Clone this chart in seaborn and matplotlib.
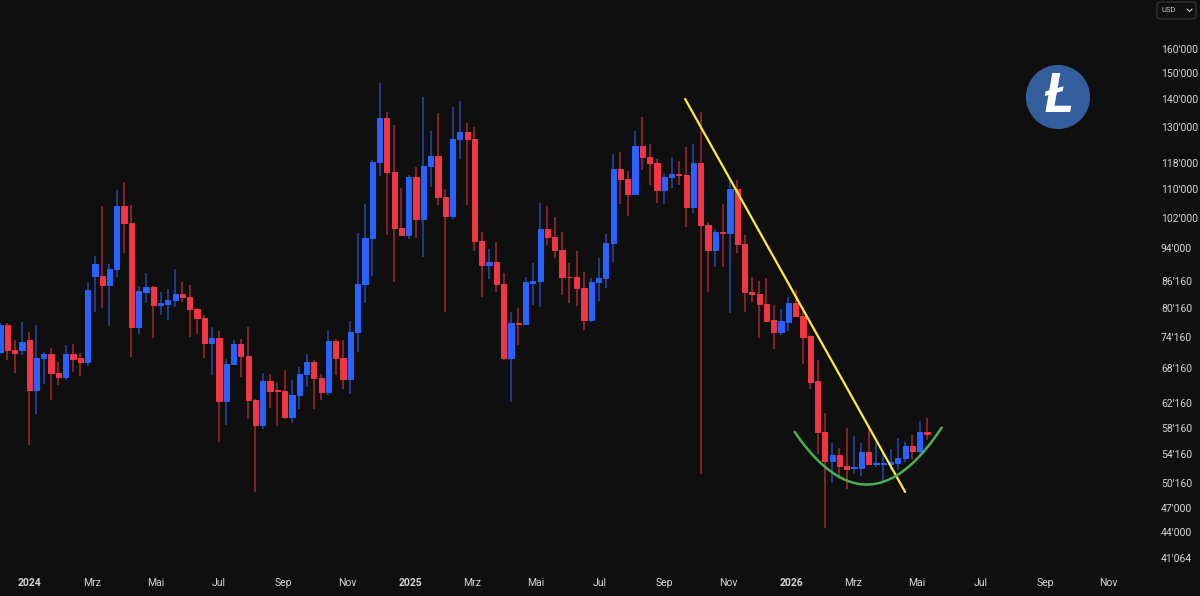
""" Weekly candle chart with trendline and rounding bottom """

import numpy as np
import pandas as pd
import matplotlib
matplotlib.use("Agg")
import matplotlib.pyplot as plt
import matplotlib.dates as mdates
from matplotlib.patches import Circle, FancyBboxPatch
from matplotlib.lines import Line2D
from matplotlib.ticker import NullLocator
import seaborn as sns

""" Data read off the chart """

first_week = "2023-12-04"  # Monday of the first weekly candle

opens = [71230, 76520, 71550, 71550, 73630, 64420, 70170, 70900, 67410, 66640,
         70900, 69990, 69370, 87220, 87300, 85130, 89010, 105150, 100400, 76180,
         83650, 84770, 80710, 80930, 81800, 83130, 82390, 79790, 78090, 72980,
         74020, 62490, 68930, 72850, 70400, 62610, 58560, 65870, 64310, 64140,
         59870, 63460, 67110, 69250, 66520, 64020, 73300, 69990, 66340, 75030,
         85360, 96460, 118390, 132900, 115250, 99070, 97290, 113730, 101550, 117020,
         120190, 107640, 102470, 125790, 128040, 125930, 95870, 89820, 90470, 85360,
         70170, 76930, 76720, 85520, 86070, 98890, 96720, 93500, 87070, 87070,
         84390, 77670, 85910, 86680, 95360, 116060, 112920, 108610, 123470, 119980,
         118080, 109770, 113530, 114640, 114240, 104970, 118080, 99950, 93500, 98090,
         97740, 110060, 94940, 83650, 83060, 80860, 77540, 75160, 77200, 81070,
         78450, 74280, 65870, 57550, 53240, 54040, 52540, 52300, 52300, 54520,
         52760, 52860, 52760, 53000, 53660, 55360, 54670, 57550]
highs = [76860, 76860, 73500, 77200, 75160, 76520, 71230, 72070, 69370, 72530,
         72850, 71100, 85520, 92100, 105150, 90070, 109770, 112210, 105430, 84990,
         87850, 84990, 83650, 84170, 89010, 85780, 85130, 80000, 78590, 76050,
         75370, 69810, 73500, 73820, 76180, 62890, 67410, 67230, 65640, 67830,
         66050, 68440, 70900, 69680, 67230, 75370, 73820, 73630, 77400, 97740,
         105700, 118920, 146230, 135330, 130580, 110250, 114240, 116590, 140610, 128610,
         134720, 109960, 136900, 139340, 131160, 129770, 98180, 93750, 95610, 87850,
         79300, 80000, 87070, 90230, 106080, 105150, 102190, 98180, 90230, 93330,
         88230, 86680, 91440, 97560, 120820, 121570, 115450, 128500, 133510, 124130,
         119130, 114740, 119980, 118710, 123020, 124130, 135090, 100670, 98800, 105890,
         112720, 112720, 97290, 87070, 86070, 86680, 80710, 79790, 82390, 84020,
         80360, 74490, 69680, 60580, 55910, 55160, 58200, 56860, 55910, 58460,
         55910, 54520, 55020, 56660, 56010, 57010, 59180, 59750]
lows = [70900, 69680, 67350, 70580, 55510, 60420, 65450, 62610, 65150, 66050,
        67530, 66760, 68570, 79160, 80000, 76380, 87070, 92820, 70300, 74820,
        81210, 74020, 78590, 77670, 80220, 81430, 74150, 74820, 69990, 66940,
        56010, 58560, 68740, 66640, 59600, 49000, 58040, 61390, 58400, 59500,
        58930, 61230, 64860, 61230, 62610, 63460, 66940, 64590, 63740, 71230,
        81070, 87300, 114040, 97290, 85910, 97000, 96210, 96460, 91850, 110540,
        105430, 79160, 101730, 119240, 105430, 93330, 82540, 86450, 83500, 69680,
        62320, 72530, 76520, 80710, 80360, 94770, 91610, 82910, 81210, 80500,
        75500, 77200, 81650, 84390, 90640, 105890, 102470, 108320, 115750, 111200,
        106080, 105700, 110250, 111400, 99510, 103110, 51450, 83650, 89260, 89420,
        78940, 92660, 79300, 81430, 74020, 77200, 71880, 74490, 75370, 78300,
        68930, 64480, 54280, 44500, 50230, 50770, 49430, 51450, 51140, 52600,
        52440, 50460, 51990, 51990, 53090, 53570, 54280, 56250]
closes = [76520, 71550, 71040, 73170, 64420, 70170, 70900, 67350, 66640, 70900,
          69870, 69370, 84020, 90070, 85130, 89010, 105150, 100400, 76180, 83800,
          84770, 80710, 81070, 81800, 83130, 82390, 79790, 78090, 72980, 74020,
          62490, 68930, 72850, 70400, 62610, 58560, 65870, 64200, 64140, 59870,
          63460, 67110, 69250, 66520, 64020, 73300, 69990, 66340, 75030, 85360,
          96460, 118390, 132900, 115250, 99070, 97290, 113730, 101550, 117020, 120190,
          107640, 102470, 125790, 128040, 125930, 95870, 89820, 90470, 85360, 70170,
          76860, 76720, 85780, 86070, 98890, 96720, 93500, 87070, 86910, 84390,
          77670, 85910, 86680, 95360, 116060, 112920, 108610, 123470, 119980, 118080,
          109770, 113730, 114540, 114240, 104970, 118080, 99950, 93500, 98180, 97740,
          110060, 94940, 83500, 83060, 80860, 77400, 75160, 77330, 81070, 78450,
          74150, 65750, 57520, 53240, 54040, 52480, 52160, 52440, 54520, 52760,
          52900, 52950, 53090, 53710, 55360, 54670, 57550, 57190]

price_ticks = [160000, 150000, 140000, 130000, 118000, 110000, 102000, 94000, 86160,
               80160, 74160, 68160, 62160, 58160, 54160, 50160, 47000, 44000, 41064]

month_ticks = ["2024-01-01", "2024-03-01", "2024-05-01", "2024-07-01", "2024-09-01",
               "2024-11-01", "2025-01-01", "2025-03-01", "2025-05-01", "2025-07-01",
               "2025-09-01", "2025-11-01", "2026-01-01", "2026-03-01", "2026-05-01",
               "2026-07-01", "2026-09-01", "2026-11-01"]
month_labels = ["2024", "Mrz", "Mai", "Jul", "Sep", "Nov", "2025", "Mrz", "Mai", "Jul",
                "Sep", "Nov", "2026", "Mrz", "Mai", "Jul", "Sep", "Nov"]

# Drawn lines: falling trendline and the rounding bottom
trend_dates = ["2025-09-21", "2026-04-20"]
trend_prices = [140000, 49000]
arc_dates = ["2026-01-04", "2026-03-14", "2026-05-25"]
arc_prices = [57540, 49980, 58200]

""" Styling """

BG = "#0f0f0f"
UP, DOWN = "#2962ff", "#f23645"
UP_WICK, DOWN_WICK = "#2846a8", "#a42834"
TXT = "#d6d6d6"

sns.set_theme(style="dark", rc={"axes.facecolor": BG, "figure.facecolor": BG})
plt.rcParams["font.family"] = ["Roboto", "DejaVu Sans"]

df = pd.DataFrame({"date": pd.date_range(first_week, periods=len(opens), freq="7D"),
                   "open": opens, "high": highs, "low": lows, "close": closes})
df["x"] = mdates.date2num(df["date"])
df["up"] = df["close"] >= df["open"]
df["body_lo"] = df[["open", "close"]].min(axis=1)
df["body_h"] = (df["close"] - df["open"]).abs()

fig = plt.figure(figsize=(12, 5.96), dpi=100)
ax = fig.add_axes([0, 26 / 596, 1145 / 1200, 570 / 596])
ax.set_yscale("log")

# wicks then bodies
ax.vlines(df["x"], df["low"], df["high"],
          colors=np.where(df["up"], UP_WICK, DOWN_WICK), linewidth=1.1, zorder=2)
body_col = np.where(df["up"], UP, DOWN)
ax.bar(df["x"], df["body_h"], bottom=df["body_lo"], width=5.0,
       color=body_col, edgecolor=body_col, linewidth=0.7, zorder=3)

# trendline
trend = pd.DataFrame({"date": pd.to_datetime(trend_dates), "price": trend_prices})
sns.lineplot(data=trend, x="date", y="price", ax=ax, color="#ffeb3b",
             linewidth=1.6, estimator=None, zorder=4)

# rounding bottom: parabola through the three read points (log price)
ax_days = mdates.date2num(pd.to_datetime(arc_dates))
coef = np.polyfit(ax_days, np.log(arc_prices), 2)
xs = np.linspace(ax_days[0], ax_days[-1], 120)
arc = pd.DataFrame({"date": mdates.num2date(xs), "price": np.exp(np.polyval(coef, xs))})
sns.lineplot(data=arc, x="date", y="price", ax=ax, color="#4caf50",
             linewidth=1.8, estimator=None, sort=False, zorder=4)

ax.set_xlim(mdates.date2num(pd.Timestamp("2023-12-04")),
            mdates.date2num(pd.Timestamp("2026-12-06")))
ax.set_ylim(39778, 182380)
ax.set_xlabel("")
ax.set_ylabel("")
ax.grid(False)
for s in ax.spines.values():
    s.set_visible(False)

ax.yaxis.tick_right()
ax.yaxis.set_minor_locator(NullLocator())
ax.set_yticks(price_ticks)
ax.set_yticklabels([f"{v:,}".replace(",", "'") for v in price_ticks])
ax.tick_params(axis="y", length=0, pad=11.5, labelsize=7.5, labelcolor=TXT)

ax.set_xticks(mdates.date2num(pd.to_datetime(month_ticks)))
ax.set_xticklabels(month_labels)
ax.tick_params(axis="x", length=0, pad=6, labelsize=7.5, labelcolor=TXT)
for lab in ax.get_xticklabels():
    if lab.get_text().startswith("20"):
        lab.set_fontweight("bold")

# currency box top right
fig.add_artist(FancyBboxPatch((1157 / 1200, 577 / 596), 39 / 1200, 17 / 596,
                              boxstyle="round,pad=0,rounding_size=0.004",
                              transform=fig.transFigure, facecolor=BG,
                              edgecolor="#3a3a3a", linewidth=0.8))
fig.text(1161 / 1200, 585.5 / 596, "USD", fontsize=5.5, color="#c8c8c8",
         va="center", ha="left")
fig.add_artist(Line2D([1187 / 1200, 1189.5 / 1200, 1192 / 1200],
                      [587 / 596, 584.5 / 596, 587 / 596],
                      transform=fig.transFigure, color="#c8c8c8", linewidth=0.8))

# Litecoin logo
logo = fig.add_axes([1026 / 1200, (596 - 129) / 596, 64 / 1200, 64 / 596])
logo.set_xlim(0, 1)
logo.set_ylim(0, 1)
logo.set_aspect("equal")
logo.axis("off")
logo.add_patch(Circle((0.5, 0.5), 0.49, color="#345d9d", clip_on=False))
logo.text(0.5, 0.5, "Ł", color="white", fontsize=40, fontweight="bold",
          fontstyle="italic", ha="center", va="center", clip_on=False)

fig.savefig("out.png", dpi=100, facecolor=BG)
